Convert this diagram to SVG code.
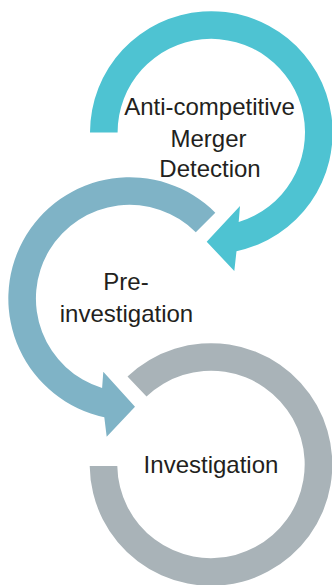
<svg xmlns="http://www.w3.org/2000/svg" width="332" height="585" viewBox="0 0 332 585">
  <style>
    .lbl { font-family: "Liberation Sans", Arial, Helvetica, sans-serif; font-size: 24px; fill: #231F20; text-anchor: middle; }
    .teal { fill: #4EC3D2; }
    .blue { fill: #7FB3C6; }
    .gray { fill: #A9B3B8; }
  </style>
  <rect width="332" height="585" fill="#FFFFFF"/>
  <g id="connectors">
    <path id="arrow-detection" class="teal" d="M 90,132.5 A 121.3 121.3 0 1 1 236.5,251.2 L 234.3,271 L 206.7,241.7 L 240,206 L 238.7,222.1 A 93.7 93.7 0 1 0 117.6,132.5 Z"/>
    <path id="arrow-preinvestigation" class="blue" d="M 215.3,212.7 A 121.3 121.3 0 1 0 104.3,417.2 L 106.7,436.7 L 135,406.7 L 103.3,371.7 L 102.1,388.1 A 93.7 93.7 0 1 1 195.8,232.2 Z"/>
    <path id="ring-investigation" class="gray" d="M 127.5,376.5 A 121.3 121.3 0 1 1 89.7,466 L 117.3,466 A 93.7 93.7 0 1 0 146.5,396.5 Z"/>
  </g>
  <g id="node-detection">
    <text class="lbl" x="209.5" y="115">Anti-competitive</text>
    <text class="lbl" x="208.5" y="146.5">Merger</text>
    <text class="lbl" x="210" y="177">Detection</text>
  </g>
  <g id="node-preinvestigation">
    <text class="lbl" x="126" y="290">Pre-</text>
    <text class="lbl" x="126.5" y="321.5">investigation</text>
  </g>
  <g id="node-investigation">
    <text class="lbl" x="211" y="473">Investigation</text>
  </g>
</svg>
